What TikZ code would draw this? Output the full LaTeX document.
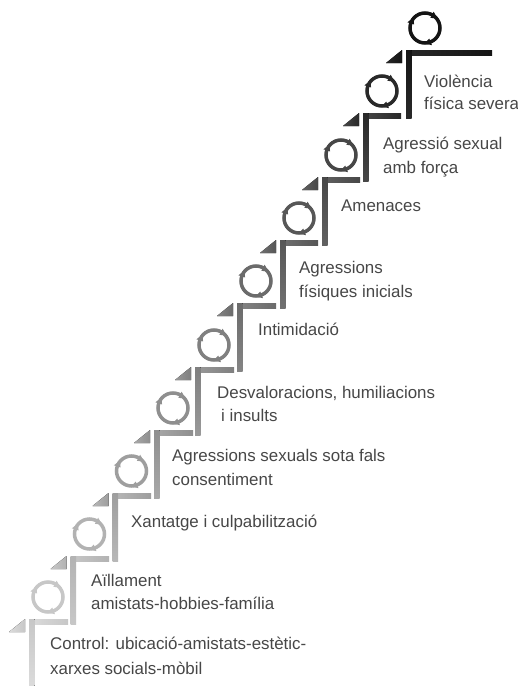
\documentclass[tikz,border=0pt]{standalone}
\usepackage{fontspec}
\setmainfont{Liberation Sans}
\usetikzlibrary{calc}
\tikzset{
  x=1pt,y=-1pt,
  lab/.style={anchor=base west,inner sep=0pt,text=black!72,font=\fontsize{16.9}{19}\selectfont},
}
\newcommand{\stair}[5]{%
  \fill[left color=#4,right color=#3] (#1,#2) -- (#5,#2) -- (#5,#2+5.5) -- (#1,#2+5.5) -- cycle;
  \fill[top color=#3,bottom color=#4] (#1,#2) -- (#1+5.5,#2) -- (#1+5.5,#2+68) -- (#1,#2+68) -- cycle;
  \fill[left color=#4,right color=#3] (#1-20,#2+13) -- (#1-4,#2) -- (#1-4,#2+13) -- cycle;
  \begin{scope}[shift={(#1+19,#2-22)}]
    \draw[#3,line width=3.5pt] (0,0) circle[radius=15];
    \foreach \a in {-62,68,198}{
      \fill[#3] (\a:11.5) -- (\a:18.5) -- (\a+24:15.5) -- cycle;
    }
  \end{scope}
}
\begin{document}
\begin{tikzpicture}
\useasboundingbox (0,0) rectangle (518,686);
\fill[white] (0,0) rectangle (518,686);
\stair{29}{619}{black!22}{black!14}{68}
\stair{70.5}{556}{black!30}{black!22}{109}
\stair{112.5}{493}{black!38}{black!28}{151}
\stair{154}{430}{black!44}{black!34}{193}
\stair{195}{367}{black!50}{black!40}{234}
\stair{237}{303}{black!58}{black!48}{276}
\stair{280}{240}{black!66}{black!56}{318}
\stair{322}{177}{black!72}{black!62}{360}
\stair{363}{113}{black!84}{black!72}{401}
\stair{406}{50}{black!92}{black!84}{492}
\node[lab] (l1a) at (50,649) {Control: ubicació-amistats-estètic-};
\node[lab] (l1b) at (50,674) {xarxes socials-mòbil};
\node[lab] (l2a) at (91,586) {Aïllament};
\node[lab] (l2b) at (91,609) {amistats-hobbies-família};
\node[lab] (l3) at (131,527) {Xantatge i culpabilització};
\node[lab] (l4a) at (172,461) {Agressions sexuals sota fals};
\node[lab] (l4b) at (172,485) {consentiment};
\node[lab] (l5a) at (217,398) {Desvaloracions, humiliacions};
\node[lab] (l5b) at (221,421) {i insults};
\node[lab] (l6) at (258,335) {Intimidació};
\node[lab] (l7a) at (299,273) {Agressions};
\node[lab] (l7b) at (299,297) {físiques inicials};
\node[lab] (l8) at (341,211) {Amenaces};
\node[lab] (l9a) at (383,149) {Agressió sexual};
\node[lab] (l9b) at (383,173) {amb força};
\node[lab] (l10a) at (424,87) {Violència};
\node[lab] (l10b) at (424,109) {física severa};
\end{tikzpicture}
\end{document}
